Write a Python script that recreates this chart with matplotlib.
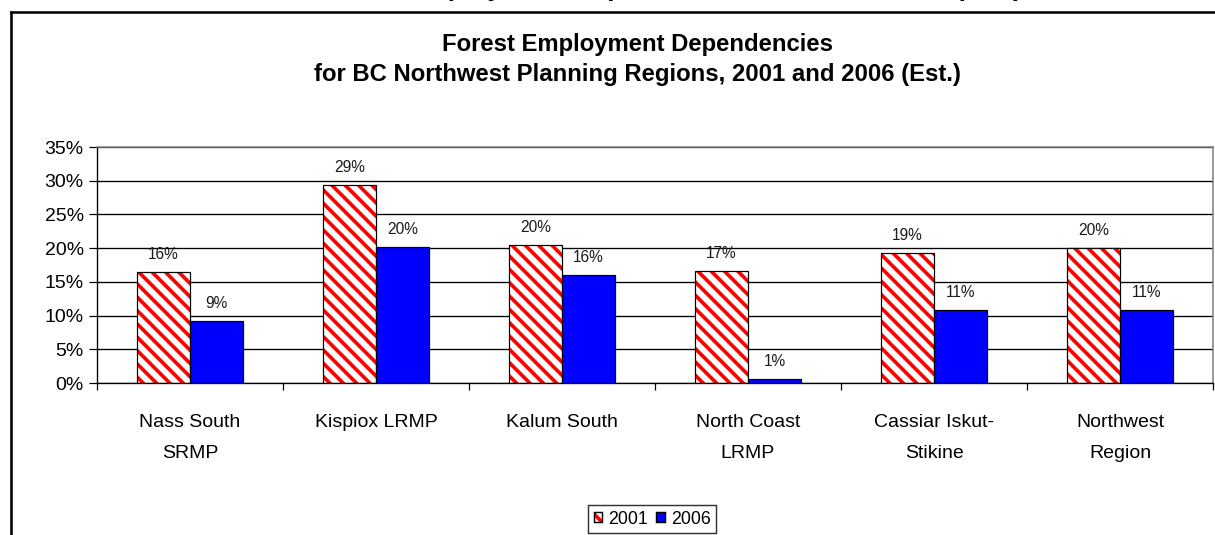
import matplotlib
matplotlib.use("Agg")
import matplotlib.pyplot as plt
from matplotlib.patches import Patch
from matplotlib.legend_handler import HandlerTuple
from matplotlib.lines import Line2D
import numpy as np

# ---- data ----
categories = ["Nass South\nSRMP", "Kispiox LRMP", "Kalum South",
              "North Coast\nLRMP", "Cassiar Iskut-\nStikine", "Northwest\nRegion"]
values_2001 = [16.4, 29.4, 20.4, 16.6, 19.3, 20.0]
values_2006 = [9.2, 20.1, 16.0, 0.6, 10.8, 10.8]
series_labels = ["2001", "2006"]
yticks = [0, 5, 10, 15, 20, 25, 30, 35]

title_line1 = "Forest Employment Dependencies"
title_line2 = "for BC Northwest Planning Regions, 2001 and 2006 (Est.)"
caption = "Forest Employment Dependencies, 2001 and 2006 (Est.)"

# ---- style ----
DPI = 80
W, H = 1215, 535
plt.rcParams["font.family"] = ["Liberation Sans", "DejaVu Sans"]
plt.rcParams["hatch.linewidth"] = 3.3

fig = plt.figure(figsize=(W / DPI, H / DPI), dpi=DPI)
fig.patch.set_facecolor("white")

ax = fig.add_axes([97 / W, 1 - 383 / H, (1213 - 97) / W, (383 - 147) / H])

x = np.arange(len(categories))
bw = 0.287
HATCH = "\\\\"

# 2001: red diagonal stripes on white, outlined in black
ax.bar(x - bw / 2, values_2001, bw, facecolor="white", edgecolor="red",
       hatch=HATCH, linewidth=0, zorder=2)
ax.bar(x - bw / 2, values_2001, bw, fill=False, edgecolor="black",
       linewidth=1.1, zorder=3)
# 2006: solid blue
ax.bar(x + bw / 2, values_2006, bw, facecolor="#0000FF", edgecolor="black",
       linewidth=1.1, zorder=3)

# value labels
for xs, vals in ((x - bw / 2, values_2001), (x + bw / 2, values_2006)):
    for xi, v in zip(xs, vals):
        ax.annotate(f"{v:.0f}%", (xi, v), xytext=(0, 9), textcoords="offset points",
                    ha="center", va="bottom", fontsize=14, color="#1a1a1a")

# axes
ax.set_xlim(-0.5, len(categories) - 0.5)
ax.set_ylim(0, 35)
ax.set_yticks(yticks)
ax.set_yticklabels([f"{t}%" for t in yticks])
ax.tick_params(axis="y", direction="out", length=7, width=1.1, pad=5,
               labelsize=17.5, colors="black")

ax.set_xticks(np.arange(-0.5, len(categories), 1.0))
ax.set_xticklabels([])
ax.tick_params(axis="x", which="major", direction="out", length=6.5, width=1.1)
ax.set_xticks(x, minor=True)
ax.set_xticklabels(categories, minor=True, fontsize=17.5, linespacing=2.1)
ax.tick_params(axis="x", which="minor", length=0, pad=28)

ax.set_axisbelow(True)
ax.yaxis.grid(True, color="black", linewidth=1.2)
ax.xaxis.grid(False)

for side in ("left", "bottom"):
    ax.spines[side].set_color("black")
    ax.spines[side].set_linewidth(1.2)
for side in ("top", "right"):
    ax.spines[side].set_color("#808080")
    ax.spines[side].set_linewidth(1.4)

# titles
fig.text(637 / W, 1 - 44 / H, title_line1, ha="center", va="center",
         fontsize=21.5, fontweight="bold")
fig.text(637 / W, 1 - 75 / H, title_line2, ha="center", va="center",
         fontsize=21.5, fontweight="bold")

# document caption above the chart frame (only its lower edge is on the page)
fig.text(1024 / W, 1 + 5 / H, caption, ha="right", va="baseline",
         fontsize=24, fontstyle="italic", fontweight="bold")

# chart frame
frame_kw = dict(color="black", linewidth=2.3, transform=fig.transFigure,
                solid_capstyle="projecting")
fig.add_artist(Line2D([11 / W, 11 / W], [-0.05, 1 - 12 / H], **frame_kw))
fig.add_artist(Line2D([11 / W, 1.05], [1 - 12 / H, 1 - 12 / H], **frame_kw))

# legend
h2001 = (Patch(facecolor="white", edgecolor="red", hatch="\\", linewidth=0),
         Patch(fill=False, edgecolor="black", linewidth=1.3))
h2006 = Patch(facecolor="#0000FF", edgecolor="black", linewidth=1.3)
leg = fig.legend([h2001, h2006], series_labels, loc="center",
                 bbox_to_anchor=(652 / W, 1 - 519 / H), ncol=2, fontsize=16,
                 handler_map={tuple: HandlerTuple(ndivide=1, pad=0)},
                 handlelength=0.5, handleheight=0.5, handletextpad=0.3,
                 columnspacing=0.5, borderpad=0.3, borderaxespad=0,
                 frameon=True, fancybox=False, edgecolor="black")
leg.get_frame().set_linewidth(1.3)

fig.savefig("out.png", dpi=DPI, facecolor="white")
